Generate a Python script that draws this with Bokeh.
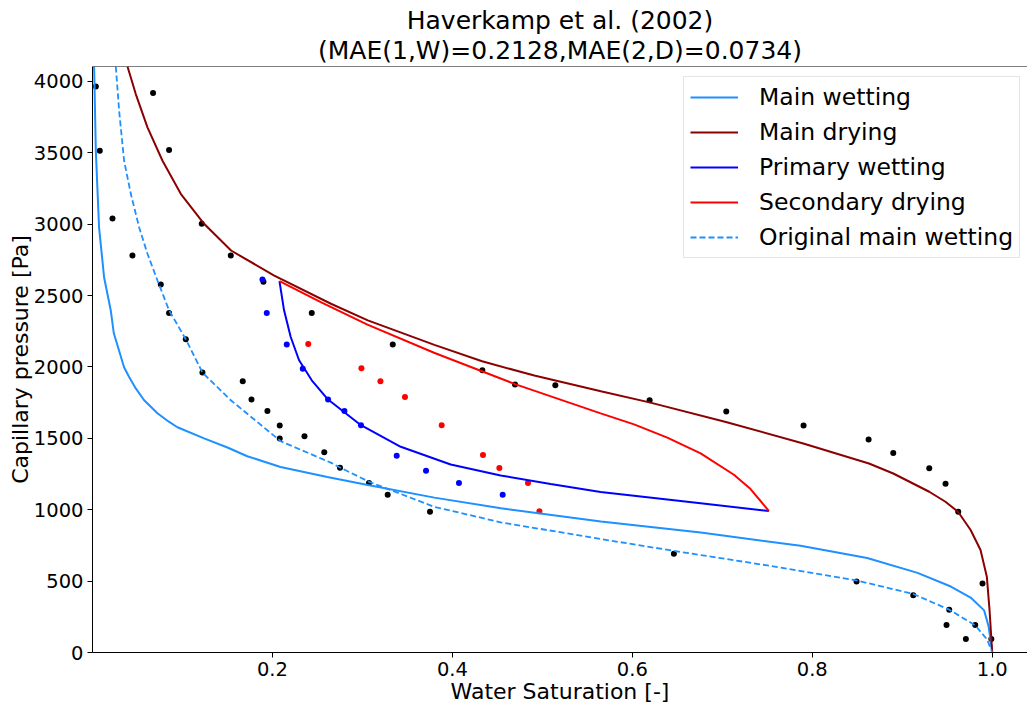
from bokeh.plotting import figure
from bokeh.models import Range1d, FixedTicker, Legend, LegendItem, Span, Title
from bokeh.embed import file_html
from bokeh.resources import INLINE

# ---------------- data ----------------
title_line1 = "Haverkamp et al. (2002)"
title_line2 = "(MAE(1,W)=0.2128,MAE(2,D)=0.0734)"
x_label = "Water Saturation [-]"
y_label = "Capillary pressure [Pa]"

x_ticks = [0.2, 0.4, 0.6, 0.8, 1.0]
x_tick_labels = ["0.2", "0.4", "0.6", "0.8", "1.0"]
y_ticks = [0, 500, 1000, 1500, 2000, 2500, 3000, 3500, 4000]

# Main wetting (model)
mw_s = [0.0018, 0.0037, 0.0073, 0.0129, 0.0203, 0.0237, 0.0351, 0.0407, 0.0481, 0.0574,
        0.0722, 0.0852, 0.0944, 0.124, 0.150, 0.172, 0.209, 0.261, 0.306, 0.380, 0.454,
        0.565, 0.676, 0.787, 0.861, 0.917, 0.954, 0.976, 0.991, 0.996, 1.0]
mw_p = [4105, 3514, 2977, 2627, 2396, 2236, 1998, 1930, 1850, 1767,
        1676, 1615, 1578, 1500, 1436, 1375, 1299, 1229, 1173, 1085, 1010,
        917, 840, 748, 662, 558, 462, 385, 295, 182, 0]

# Main drying (model)
md_s = [0.0389, 0.0481, 0.0611, 0.0778, 0.0981, 0.124, 0.154, 0.202, 0.265, 0.306, 0.380,
        0.433, 0.491, 0.565, 0.619, 0.704, 0.790, 0.863, 0.890, 0.930, 0.948, 0.962,
        0.976, 0.987, 0.994, 0.997, 1.0]
md_p = [4105, 3912, 3678, 3445, 3213, 3003, 2816, 2640, 2443, 2327, 2155,
        2040, 1940, 1830, 1752, 1615, 1464, 1324, 1254, 1126, 1056, 986,
        858, 718, 531, 299, 0]

# Primary wetting (model)
pw_s = [0.2078, 0.2129, 0.2203, 0.2296, 0.2437, 0.2618, 0.2984, 0.3426, 0.3981, 0.4537,
        0.5092, 0.5648, 0.6759, 0.7518]
pw_p = [2601, 2397, 2210, 2047, 1907, 1772, 1592, 1441, 1317, 1240,
        1180, 1125, 1045, 991]

# Secondary drying (model)
sd_s = [0.2078, 0.2537, 0.3056, 0.3796, 0.4696, 0.5648, 0.6019, 0.6389, 0.6759, 0.7129,
        0.7314, 0.7518]
sd_p = [2601, 2455, 2297, 2100, 1880, 1675, 1598, 1505, 1395, 1245,
        1145, 991]

# Original main wetting (model, dashed)
omw_s = [0.0259, 0.0296, 0.0351, 0.0426, 0.0518, 0.0611, 0.0722, 0.0851, 0.1037, 0.1222,
         0.1537, 0.2092, 0.2648, 0.2751, 0.3073, 0.3796, 0.4537, 0.5648, 0.6462, 0.75,
         0.8492, 0.9122, 0.9522, 0.9811, 0.9944, 1.0]
omw_p = [4105, 3795, 3445, 3213, 2979, 2793, 2606, 2397, 2194, 1961,
         1767, 1480, 1330, 1296, 1196, 1021, 912, 795, 712, 610,
         505, 410, 300, 190, 90, 0]

# Measured points: main curves (black)
meas_main_s = [0.0037, 0.0081, 0.0222, 0.0444, 0.0759, 0.0673, 0.0851, 0.1214, 0.1537, 0.19,
               0.0851, 0.1037, 0.1222, 0.167, 0.1767, 0.1944, 0.2081, 0.2081, 0.2356, 0.2576,
               0.2751, 0.3073, 0.3281, 0.3751, 0.2437, 0.3337, 0.4333, 0.4696, 0.5144, 0.6192,
               0.7044, 0.7903, 0.8626, 0.89, 0.93, 0.9481, 0.9622, 0.6462, 0.8492, 0.9122,
               0.9522, 0.9492, 0.9811, 0.9707, 0.9892, 0.999]
meas_main_p = [3965, 3515, 3040, 2781, 2578, 3919, 3520, 3003, 2781, 2597,
               2378, 2194, 1961, 1900, 1772, 1692, 1590, 1499, 1515, 1402,
               1294, 1187, 1105, 986, 2379, 2157, 1977, 1877, 1872, 1767,
               1688, 1590, 1492, 1397, 1290, 1182, 986, 692, 497, 401,
               299, 192, 192, 94, 483, 94]

# Measured points: primary wetting (blue)
meas_pw_s = [0.1889, 0.1937, 0.2159, 0.2337, 0.2618, 0.28, 0.2984, 0.3381, 0.3707, 0.4073, 0.4559]
meas_pw_p = [2613, 2378, 2157, 1987, 1772, 1692, 1592, 1378, 1273, 1187, 1105]

# Measured points: secondary drying (red)
meas_sd_s = [0.2398, 0.2989, 0.32, 0.3473, 0.3881, 0.434, 0.4522, 0.484, 0.4967]
meas_sd_p = [2161, 1991, 1900, 1790, 1592, 1383, 1292, 1187, 989]

# ---------------- figure ----------------
FONT = "DejaVu Sans"
W, H = 1027, 706
BL, BR, BT, BB = 92, 0, 66, 54

p = figure(width=W, height=H, output_backend="svg", toolbar_location=None,
           x_range=Range1d(0.0, 1.0392), y_range=Range1d(0, 4105),
           min_border_left=BL, min_border_right=BR, min_border_top=BT, min_border_bottom=BB,
           title=title_line1)
p.title.align = "center"
p.title.text_font = FONT
p.title.text_font_size = "25px"
p.title.text_font_style = "normal"
p.title.text_color = "black"
p.title.text_line_height = 1.0
p.title.standoff = -6
p.title.offset = 4
t2 = Title(text=title_line2, align="center", text_font=FONT, text_font_size="25px",
           text_font_style="normal", text_color="black", text_line_height=1.0,
           standoff=4, offset=4)
p.add_layout(t2, "above")

p.grid.visible = False
p.background_fill_color = "white"
p.border_fill_color = "white"
p.outline_line_color = None
p.add_layout(Span(location=4105, dimension="width", line_color="black", line_width=1))

for ax in (p.xaxis[0], p.yaxis[0]):
    ax.axis_line_color = "black"
    ax.axis_line_width = 1
    ax.major_tick_line_color = "black"
    ax.major_tick_out = 5
    ax.major_tick_in = 0
    ax.minor_tick_line_color = None
    ax.major_label_text_font = FONT
    ax.major_label_text_font_size = "19.5px"
    ax.major_label_text_color = "black"
    ax.axis_label_text_font = FONT
    ax.axis_label_text_font_size = "22px"
    ax.axis_label_text_font_style = "normal"
    ax.axis_label_text_color = "black"

p.yaxis[0].major_label_standoff = 4
p.yaxis[0].axis_label_standoff = -2
p.xaxis[0].major_label_standoff = 4
p.xaxis[0].axis_label_standoff = 0

p.xaxis[0].ticker = FixedTicker(ticks=x_ticks)
p.xaxis[0].major_label_overrides = {t: l for t, l in zip(x_ticks, x_tick_labels)}
p.yaxis[0].ticker = FixedTicker(ticks=y_ticks)
p.xaxis[0].axis_label = x_label
p.yaxis[0].axis_label = y_label

# measured points (drawn beneath the lines)
p.scatter(meas_main_s, meas_main_p, size=6, color="black", line_color=None)
p.scatter(meas_pw_s, meas_pw_p, size=6, color="blue", line_color=None)
p.scatter(meas_sd_s, meas_sd_p, size=6, color="red", line_color=None)

r_mw = p.line(mw_s, mw_p, line_color="#1E90FF", line_width=2)
r_md = p.line(md_s, md_p, line_color="#8B0000", line_width=2)
r_pw = p.line(pw_s, pw_p, line_color="#0000FF", line_width=2)
r_sd = p.line(sd_s, sd_p, line_color="#FF0000", line_width=2)
r_omw = p.line(omw_s, omw_p, line_color="#1E90FF", line_width=1.8, line_dash="6 3")

legend = Legend(items=[
    LegendItem(label="Main wetting", renderers=[r_mw]),
    LegendItem(label="Main drying", renderers=[r_md]),
    LegendItem(label="Primary wetting", renderers=[r_pw]),
    LegendItem(label="Secondary drying", renderers=[r_sd]),
    LegendItem(label="Original main wetting", renderers=[r_omw]),
], location=(591, 394))
legend.margin = 0
legend.padding = 6
legend.spacing = 7
legend.glyph_width = 48
legend.glyph_height = 28
legend.label_height = 28
legend.label_standoff = 21
legend.label_text_font = FONT
legend.label_text_font_size = "23.5px"
legend.label_text_color = "black"
legend.border_line_color = "#cccccc"
legend.border_line_width = 1
legend.background_fill_color = "white"
legend.background_fill_alpha = 0.8
p.add_layout(legend)

open("out.html", "w").write(file_html(p, INLINE))
